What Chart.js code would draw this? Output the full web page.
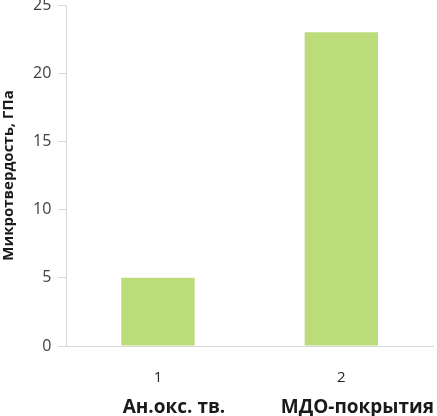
<!DOCTYPE html>
<html>
<head>
<meta charset="utf-8">
<script src="https://cdn.jsdelivr.net/npm/chart.js@4/dist/chart.umd.min.js"></script>
<style>
  html, body { margin: 0; padding: 0; background: #fff; }
  #wrap { width: 437px; height: 416px; }
</style>
</head>
<body>
<div id="wrap"><canvas id="grafico"></canvas></div>
<script>
// datos
var numeros = ['1', '2'];
var muestras = ['Ан.окс. тв.', 'МДО-покрытия'];
var microdureza = [5, 23];
var tituloY = 'Микротвердость, ГПа';

var gris = '#d9d9d9';
var fuente = "'Open Sans', 'DejaVu Sans', sans-serif";

Chart.defaults.font.family = fuente;
Chart.defaults.color = '#404040';

new Chart('grafico', {
    type: 'bar',
    data: {
        labels: numeros,
        datasets: [{
            data: microdureza,
            backgroundColor: '#bcdb7b',
            borderWidth: 0,
            categoryPercentage: 1,
            barPercentage: 0.4
        }]
    },
    options: {
        responsive: true,
        maintainAspectRatio: false,
        animation: false,
        layout: { padding: { left: 0, right: 4, top: 0, bottom: 0 } },
        plugins: {
            legend: { display: false },
            tooltip: { enabled: false }
        },
        scales: {
            x: {
                type: 'category',
                labels: numeros,
                weight: 1,
                grid: { display: false, drawTicks: false },
                border: { display: true, color: gris, width: 1 },
                ticks: { padding: 23, font: { size: 15 }, color: '#262626', maxRotation: 0 },
                afterFit: function (s) { s.height = 50; }
            },
            x2: {
                type: 'category',
                position: 'bottom',
                labels: muestras,
                weight: 2,
                offset: true,
                grid: { display: false, drawTicks: false },
                border: { display: false },
                ticks: { padding: 0, labelOffset: 16, font: { size: 19, weight: 'bold' }, color: '#1a1a1a', maxRotation: 0, autoSkip: false },
                afterFit: function (s) { s.height = 20; }
            },
            y: {
                min: 0,
                max: 25,
                ticks: { stepSize: 5, padding: 7, font: { size: 16 }, color: '#404040' },
                grid: { drawOnChartArea: false, tickLength: 8, color: gris },
                border: { display: true, color: gris, width: 1 },
                title: {
                    display: true,
                    text: tituloY,
                    font: { size: 15, weight: 'bold' },
                    color: '#1a1a1a',
                    padding: { top: 0, bottom: 8 }
                },
                afterFit: function (s) { s.paddingTop = 5; s.paddingBottom = 0; }
            }
        }
    }
});
</script>
</body>
</html>
